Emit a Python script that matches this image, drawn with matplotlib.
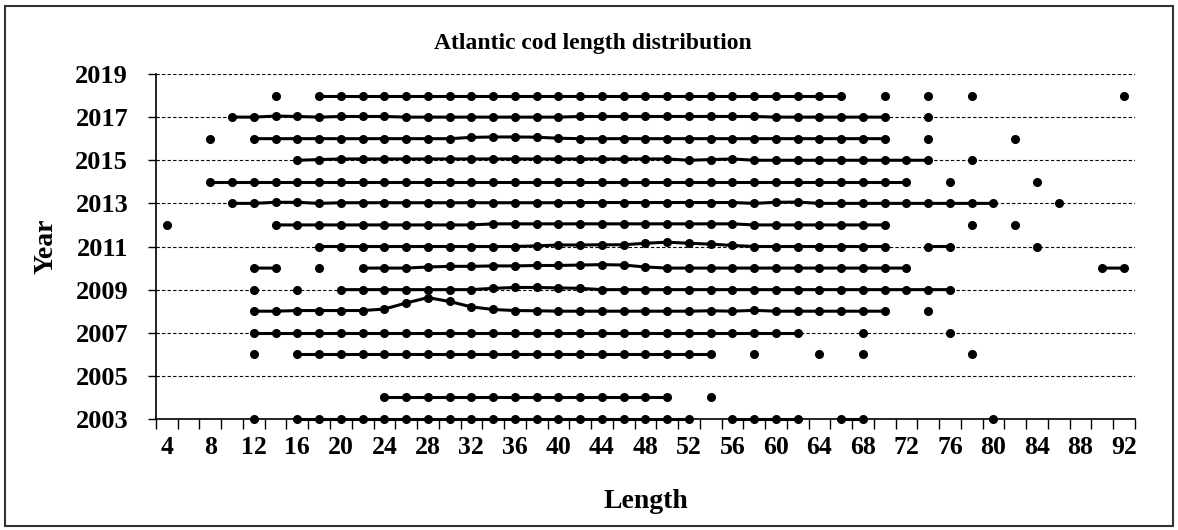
import matplotlib.pyplot as plt
import numpy as np
from matplotlib.patches import Rectangle

plt.rcParams['font.family'] = ['Liberation Serif', 'DejaVu Serif']
plt.rcParams['font.weight'] = 'bold'

# length classes (cm), one category every 2 cm
lengths = [4, 6, 8, 10, 12, 14, 16, 18, 20, 22, 24, 26, 28, 30, 32, 34, 36, 38, 40,
           42, 44, 46, 48, 50, 52, 54, 56, 58, 60, 62, 64, 66, 68, 70, 72, 74, 76,
           78, 80, 82, 84, 86, 88, 90, 92]
years = [2003, 2004, 2005, 2006, 2007, 2008, 2009, 2010, 2011, 2012, 2013, 2014,
         2015, 2016, 2017, 2018]

# lengths observed in each year
len_2018 = [14, 18, 20, 22, 24, 26, 28, 30, 32, 34, 36, 38, 40, 42, 44, 46, 48, 50,
            52, 54, 56, 58, 60, 62, 64, 66, 70, 74, 78, 92]
len_2017 = [10, 12, 14, 16, 18, 20, 22, 24, 26, 28, 30, 32, 34, 36, 38, 40, 42, 44,
            46, 48, 50, 52, 54, 56, 58, 60, 62, 64, 66, 68, 70, 74]
len_2016 = [8, 12, 14, 16, 18, 20, 22, 24, 26, 28, 30, 32, 34, 36, 38, 40, 42, 44,
            46, 48, 50, 52, 54, 56, 58, 60, 62, 64, 66, 68, 70, 74, 82]
len_2015 = [16, 18, 20, 22, 24, 26, 28, 30, 32, 34, 36, 38, 40, 42, 44, 46, 48, 50,
            52, 54, 56, 58, 60, 62, 64, 66, 68, 70, 72, 74, 78]
len_2014 = [8, 10, 12, 14, 16, 18, 20, 22, 24, 26, 28, 30, 32, 34, 36, 38, 40, 42,
            44, 46, 48, 50, 52, 54, 56, 58, 60, 62, 64, 66, 68, 70, 72, 76, 84]
len_2013 = [10, 12, 14, 16, 18, 20, 22, 24, 26, 28, 30, 32, 34, 36, 38, 40, 42, 44,
            46, 48, 50, 52, 54, 56, 58, 60, 62, 64, 66, 68, 70, 72, 74, 76, 78, 80, 86]
len_2012 = [4, 14, 16, 18, 20, 22, 24, 26, 28, 30, 32, 34, 36, 38, 40, 42, 44, 46,
            48, 50, 52, 54, 56, 58, 60, 62, 64, 66, 68, 70, 78, 82]
len_2011 = [18, 20, 22, 24, 26, 28, 30, 32, 34, 36, 38, 40, 42, 44, 46, 48, 50, 52,
            54, 56, 58, 60, 62, 64, 66, 68, 70, 74, 76, 84]
len_2010 = [12, 14, 18, 22, 24, 26, 28, 30, 32, 34, 36, 38, 40, 42, 44, 46, 48, 50,
            52, 54, 56, 58, 60, 62, 64, 66, 68, 70, 72, 90, 92]
len_2009 = [12, 16, 20, 22, 24, 26, 28, 30, 32, 34, 36, 38, 40, 42, 44, 46, 48, 50,
            52, 54, 56, 58, 60, 62, 64, 66, 68, 70, 72, 74, 76]
len_2008 = [12, 14, 16, 18, 20, 22, 24, 26, 28, 30, 32, 34, 36, 38, 40, 42, 44, 46,
            48, 50, 52, 54, 56, 58, 60, 62, 64, 66, 68, 70, 74]
len_2007 = [12, 14, 16, 18, 20, 22, 24, 26, 28, 30, 32, 34, 36, 38, 40, 42, 44, 46,
            48, 50, 52, 54, 56, 58, 60, 62, 68, 76]
len_2006 = [12, 16, 18, 20, 22, 24, 26, 28, 30, 32, 34, 36, 38, 40, 42, 44, 46, 48,
            50, 52, 54, 58, 64, 68, 78]
len_2005 = []
len_2004 = [24, 26, 28, 30, 32, 34, 36, 38, 40, 42, 44, 46, 48, 50, 54]
len_2003 = [12, 16, 18, 20, 22, 24, 26, 28, 30, 32, 34, 36, 38, 40, 42, 44, 46, 48,
            50, 52, 56, 58, 60, 62, 66, 68, 80]

# relative frequency shown as height above the year line (only where visible)
freq_2017 = {14: 0.05, 16: 0.03, 20: 0.03, 22: 0.03, 24: 0.03, 42: 0.03, 44: 0.03,
             46: 0.03, 48: 0.03, 50: 0.03, 52: 0.03, 54: 0.03, 56: 0.03, 58: 0.03}
freq_2016 = {32: 0.06, 34: 0.08, 36: 0.08, 38: 0.07, 40: 0.02}
freq_2015 = {18: 0.03, 20: 0.06, 22: 0.06, 24: 0.06, 26: 0.06, 28: 0.06, 30: 0.06,
             32: 0.06, 34: 0.06, 36: 0.06, 38: 0.06, 40: 0.06, 42: 0.06, 44: 0.06,
             46: 0.06, 48: 0.06, 50: 0.06, 54: 0.03, 56: 0.06}
freq_2013 = {14: 0.05, 16: 0.05, 20: 0.03, 22: 0.03, 24: 0.03, 26: 0.03, 28: 0.03,
             30: 0.03, 32: 0.03, 34: 0.03, 36: 0.03, 38: 0.03, 40: 0.03, 42: 0.04,
             44: 0.04, 46: 0.04, 48: 0.04, 50: 0.04, 52: 0.04, 54: 0.04, 56: 0.04,
             60: 0.05, 62: 0.06}
freq_2012 = {34: 0.05, 36: 0.05, 38: 0.05, 40: 0.05, 42: 0.05, 44: 0.05, 46: 0.05,
             48: 0.05, 50: 0.05, 52: 0.05, 54: 0.05, 56: 0.05}
freq_2011 = {38: 0.03, 40: 0.07, 42: 0.07, 44: 0.08, 46: 0.08, 48: 0.15, 50: 0.2,
             52: 0.15, 54: 0.11, 56: 0.05}
freq_2010 = {28: 0.05, 30: 0.08, 32: 0.08, 34: 0.1, 36: 0.1, 38: 0.12, 40: 0.12,
             42: 0.14, 44: 0.16, 46: 0.14, 48: 0.05}
freq_2009 = {34: 0.06, 36: 0.1, 38: 0.1, 40: 0.08, 42: 0.06}
freq_2008 = {16: 0.03, 18: 0.03, 20: 0.03, 22: 0.03, 24: 0.1, 26: 0.38, 28: 0.63,
             30: 0.45, 32: 0.2, 34: 0.08, 36: 0.03, 38: 0.02, 54: 0.02, 58: 0.04}

rows = {
    2018: (len_2018, {}), 2017: (len_2017, freq_2017), 2016: (len_2016, freq_2016),
    2015: (len_2015, freq_2015), 2014: (len_2014, {}), 2013: (len_2013, freq_2013),
    2012: (len_2012, freq_2012), 2011: (len_2011, freq_2011), 2010: (len_2010, freq_2010),
    2009: (len_2009, freq_2009), 2008: (len_2008, freq_2008), 2007: (len_2007, {}),
    2006: (len_2006, {}), 2005: (len_2005, {}), 2004: (len_2004, {}), 2003: (len_2003, {}),
}

fig = plt.figure(figsize=(11.78, 5.3), dpi=100)
ax = fig.add_axes([0.1324, 0.2094, 0.831, 0.651])

for yr in years:
    obs, freq = rows[yr]
    yvals = []
    for L in lengths:
        if L in obs:
            yvals.append(yr + freq.get(L, 0.0))
        else:
            yvals.append(np.nan)   # gap -> no connecting line
    ax.plot(lengths, yvals, '-o', color='black', lw=2.2, ms=5.5, clip_on=False, zorder=3)

ax.set_xlim(3, 93)
ax.set_ylim(2003, 2019)

ax.set_yticks([2003, 2005, 2007, 2009, 2011, 2013, 2015, 2017, 2019])
ax.yaxis.grid(True, linestyle=(0, (3, 2)), color='black', lw=0.8)
ax.set_axisbelow(True)

# labels in the middle of every other class, tick marks between classes
ax.set_xticks(lengths[::2])
ax.set_xticks([L - 1 for L in lengths] + [93], minor=True)
ax.tick_params(axis='x', which='major', length=0, pad=12, labelsize=18.5)
ax.tick_params(axis='x', which='minor', length=7, width=1, direction='out')
ax.tick_params(axis='y', which='major', length=6, width=1, pad=14, labelsize=19)

ax.spines['top'].set_visible(False)
ax.spines['right'].set_visible(False)
ax.spines['left'].set_linewidth(1.2)
ax.spines['bottom'].set_linewidth(1.2)

fig.text(0.503, 0.918, 'Atlantic cod length distribution', fontsize=17,
         fontweight='bold', ha='center', va='center')
ax.set_xlabel('Length', fontsize=20, fontweight='bold', labelpad=22)
ax.set_ylabel('Year', fontsize=20, fontweight='bold', labelpad=12)

fig.patches.append(Rectangle((0.004, 0.008), 0.992, 0.98, transform=fig.transFigure,
                             fill=False, edgecolor='#333333', lw=1.5))

plt.savefig('out.png', dpi=100)
